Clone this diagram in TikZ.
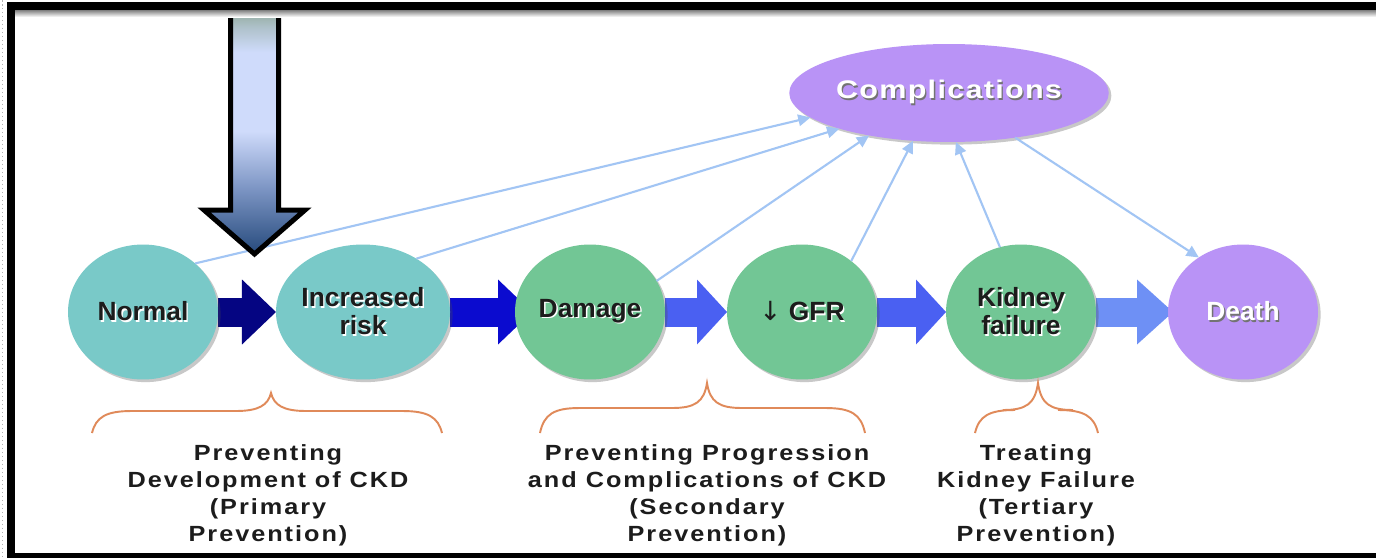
\documentclass[tikz,border=0pt]{standalone}
\usepackage{fontspec}
\setmainfont{Liberation Sans}
\newfontfamily\spacedfont[LetterSpace=9,FakeStretch=1.15]{Liberation Sans}
\newfontfamily\compfont[LetterSpace=5,FakeStretch=1.2]{Liberation Sans}
\newfontfamily\symfont{DejaVu Sans}
\usetikzlibrary{shapes.geometric,arrows.meta,shadows}
\pgfdeclarelayer{bottom}
\pgfdeclarelayer{background}
\pgfsetlayers{bottom,background,main}

\definecolor{tealc}{HTML}{79C9C8}
\definecolor{greenc}{HTML}{72C695}
\definecolor{purpc}{HTML}{B993F6}
\definecolor{txtdark}{HTML}{1C1C1C}
\definecolor{navyA}{HTML}{050582}
\definecolor{blueB}{HTML}{0B0BCF}
\definecolor{blueC}{HTML}{4A60F2}
\definecolor{blueD}{HTML}{6E90F5}
\definecolor{lightln}{HTML}{A2C5F4}
\definecolor{bracec}{HTML}{E08A5A}
\definecolor{adark}{HTML}{264A7C}
\definecolor{amid}{HTML}{7A93C2}
\definecolor{alight}{HTML}{CFDBFB}
\definecolor{agray}{HTML}{AFC2CB}
\definecolor{atop}{HTML}{8EA796}

\pgfdeclareverticalshading{bigarrowshade}{100bp}{color(0bp)=(adark); color(25bp)=(adark); color(38bp)=(amid); color(50bp)=(alight); color(66bp)=(alight); color(71bp)=(agray); color(75bp)=(atop); color(100bp)=(atop)}

\newcommand\shtext[2]{\leavevmode\rlap{\kern0.8pt\raisebox{-0.8pt}{\textcolor{#2}{#1}}}#1}
\newcommand\cbrace[5]{% x1, xm, x2, yh, ypeak
  \draw[bracestyle] (#1,433) .. controls ({#1+4},{#4+6}) and ({#1+14},#4) .. ({#1+40},#4)
    -- ({#2-35},#4) .. controls ({#2-12},#4) and ({#2-3},{#4-6}) .. (#2,#5)
    .. controls ({#2+3},{#4-6}) and ({#2+12},#4) .. ({#2+35},#4)
    -- ({#3-40},#4) .. controls ({#3-14},#4) and ({#3-4},{#4+6}) .. (#3,433);}

\begin{document}
\begin{tikzpicture}[x=0.02cm,y=-0.02cm,
  circ/.style={ellipse, minimum width=3cm, minimum height=2.7cm, inner sep=0pt, outer sep=0pt,
    font=\bfseries\fontsize{15}{16}\selectfont, text=txtdark, align=center,
    drop shadow={shadow xshift=1.5pt, shadow yshift=-1.5pt, opacity=0.3, fill=black!70}},
  blockarrow/.style={line width=0.58cm},
  lightarrow/.style={draw=lightln, line width=1.2pt, -{Triangle[length=7pt,width=6.5pt]}},
  bracestyle/.style={draw=bracec, line width=1.1pt},
  lbl/.style={font=\spacedfont\bfseries\fontsize{12.5}{15.3}\selectfont, text=txtdark, align=center}]

\useasboundingbox (0,0) rectangle (1376,558);
\begin{pgfonlayer}{bottom}
\fill[white] (0,0) rectangle (1376,558);
\end{pgfonlayer}

% nodes
\node[circ, fill=tealc] (normal) at (143,312) {\shtext{Normal}{white}};
\node[circ, fill=tealc] (incr) at (363,312) {\shtext{Increased}{white}\\\shtext{risk}{white}};
\node[circ, fill=greenc] (damage) at (590,312) {\shtext{Damage}{white}};
\node[circ, fill=greenc] (gfr) at (802,312) {{\symfont\mdseries ↓} \shtext{GFR}{white}};
\node[circ, fill=greenc] (kidney) at (1021,312) {\shtext{Kidney}{white}\\\shtext{failure}{white}};
\node[circ, fill=purpc, text=white] (death) at (1243,312) {\shtext{Death}{black!55}};
\node[ellipse, fill=purpc, minimum width=5.16cm, minimum height=1.96cm, inner sep=0pt, outer sep=0pt,
  text=white, font=\compfont\bfseries\fontsize{14.5}{16}\selectfont,
  drop shadow={shadow xshift=1.5pt, shadow yshift=-1.5pt, opacity=0.3, fill=black!70}] (comp) at (949,93) {\shtext{Complications}{black!55}};

% block arrows behind circles
\begin{pgfonlayer}{background}
\draw[blockarrow, draw=navyA, -{Triangle[length=0.68cm,width=1.3cm,line width=0pt]}] (normal.east) -- (incr.west);
\draw[blockarrow, draw=blueB, -{Triangle[length=0.68cm,width=1.3cm,line width=0pt]}] (incr.east) -- ([xshift=0.34cm]damage.west);
\draw[blockarrow, draw=blueC, -{Triangle[length=0.6cm,width=1.3cm,line width=0pt]}] (damage.east) -- (gfr.west);
\draw[blockarrow, draw=blueC, -{Triangle[length=0.6cm,width=1.3cm,line width=0pt]}] (gfr.east) -- (kidney.west);
\draw[blockarrow, draw=blueD, -{Triangle[length=0.72cm,width=1.3cm,line width=0pt]}] (kidney.east) -- ([xshift=0.1cm]death.west);
\end{pgfonlayer}

% light connectors
\draw[lightarrow] (normal.43) -- (comp.190);
\draw[lightarrow] (incr.45) -- (comp.198);
\draw[lightarrow] (damage.25) -- (comp.208);
\draw[lightarrow] (gfr.46) -- (comp.233);
\draw[lightarrow] (kidney.108) -- (comp.278);
\draw[lightarrow] (comp.326) -- (death.129);

% big down arrow
\shadedraw[shading=bigarrowshade, line width=0.1cm, line join=miter, miter limit=10]
  (230.5,8) -- (278.5,8) -- (278.5,210) -- (305,210) -- (254.5,254) -- (204,210) -- (230.5,210) -- cycle;

% braces
\cbrace{92}{271}{442}{411}{393}
\cbrace{540}{707}{865}{408}{383}
\cbrace{975}{1038}{1098}{410}{383}

% labels
\node[lbl] (lab1) at (268,495) {Preventing\\Development of CKD\\(Primary\\Prevention)};
\node[lbl] (lab2) at (707,495) {Preventing Progression\\and Complications of CKD\\(Secondary\\Prevention)};
\node[lbl] (lab3) at (1036,495) {Treating\\Kidney Failure\\(Tertiary\\Prevention)};

% frame
\draw[black!30, line width=0.03cm, dash pattern=on 0.03cm off 0.05cm] (2.5,0) -- (2.5,558);
\shade[top color=black!50, bottom color=white] (15,10) rectangle (1376,17);
\fill[black] (7,2) rectangle (1376,10);
\fill[black] (7,2) rectangle (15,558);
\fill[black] (7,553) rectangle (1376,558);
\end{tikzpicture}
\end{document}
